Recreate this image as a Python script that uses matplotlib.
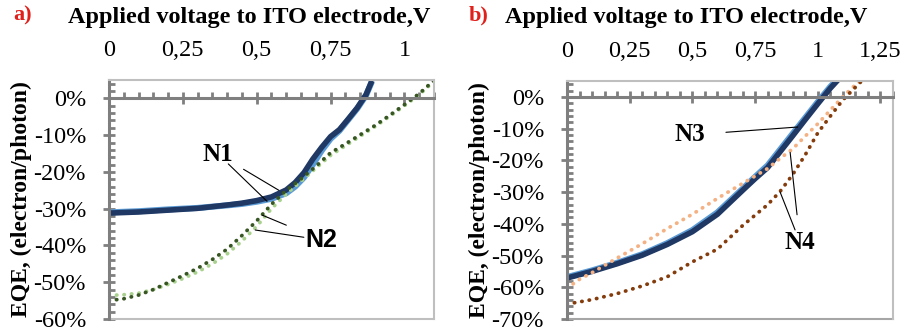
import numpy as np
import matplotlib
matplotlib.use('Agg')
import matplotlib.pyplot as plt
from matplotlib.ticker import MultipleLocator, FuncFormatter
from matplotlib.lines import Line2D

# ---- data ----
# panel a
v_n1 = [0, 0.1, 0.2, 0.3, 0.4, 0.45, 0.5, 0.55, 0.6, 0.63, 0.66, 0.69, 0.72, 0.75, 0.78, 0.81, 0.84, 0.87, 0.89]
n1_dark = [-31.2, -30.9, -30.4, -29.9, -29.0, -28.5, -27.8, -26.8, -24.9, -22.9, -20.2, -16.5, -13.3, -10.4, -8.5, -5.6, -2.6, 1.0, 4.8]
n1_light = [-31.0, -30.7, -30.2, -29.8, -29.1, -28.7, -28.1, -27.3, -25.8, -24.0, -21.5, -18.0, -14.2, -11.0, -8.8, -5.8, -2.8, 0.8, 4.6]

v_n2 = [0, 0.05, 0.1, 0.15, 0.2, 0.25, 0.3, 0.35, 0.4, 0.45, 0.5, 0.55, 0.6, 0.65, 0.7, 0.75, 0.8, 0.85, 0.9, 0.95, 1.0, 1.05, 1.1]
n2_dark = [-55.0, -54.5, -53.5, -52.0, -50.1, -48.2, -46.2, -43.8, -41.0, -37.3, -33.3, -28.8, -25.0, -21.9, -18.5, -14.8, -12.4, -9.9, -7.4, -4.6, -1.7, 1.3, 4.9]
n2_light = [-53.6, -53.4, -53.0, -52.0, -50.6, -49.0, -47.2, -45.0, -42.3, -38.8, -34.8, -30.0, -26.0, -22.5, -19.0, -15.5, -12.9, -10.3, -7.7, -4.9, -2.0, 1.0, 4.6]

# panel b
v_n3 = [0, 0.1, 0.2, 0.3, 0.4, 0.5, 0.6, 0.7, 0.75, 0.8, 0.85, 0.9, 0.95, 1.0, 1.05, 1.1]
n3_dark = [-57.1, -55.0, -52.6, -49.9, -46.5, -42.5, -37.0, -29.5, -25.8, -22.3, -17.3, -12.3, -7.2, -2.2, 2.7, 7.0]
n3_light = [-56.8, -54.7, -52.3, -49.6, -46.1, -42.0, -36.4, -29.0, -25.2, -21.6, -16.6, -11.6, -6.6, -1.6, 3.2, 7.4]

v_n4 = [0, 0.05, 0.1, 0.2, 0.3, 0.4, 0.5, 0.6, 0.7, 0.8, 0.85, 0.9, 0.95, 1.0, 1.05, 1.1, 1.15, 1.2]
n4_light = [-60.3, -57.5, -55.4, -50.8, -46.3, -41.5, -37.0, -32.0, -27.3, -22.6, -19.4, -16.4, -12.4, -8.5, -4.2, 0.0, 3.8, 7.0]
n4_dark = [-65.3, -64.6, -63.9, -62.0, -59.6, -56.7, -52.0, -48.0, -40.6, -34.0, -29.8, -24.5, -18.3, -11.4, -6.1, -1.0, 3.0, 7.0]

xticks_a = [0, 0.25, 0.5, 0.75, 1]
xticks_b = [0, 0.25, 0.5, 0.75, 1, 1.25]
xlabels_a = ['0', '0,25', '0,5', '0,75', '1']
xlabels_b = ['0', '0,25', '0,5', '0,75', '1', '1,25']

plt.rcParams['font.family'] = 'Liberation Serif'
AX_GRAY = '#7f7f7f'
FRAME = '#bfbfbf'
NAVY = '#1f3864'
LBLUE = '#5b9bd5'

fig = plt.figure(figsize=(9.06, 3.35), dpi=100)
ax_a = fig.add_axes([0.1203, 0.0478, 0.3587, 0.7134])
ax_b = fig.add_axes([0.6258, 0.0478, 0.3598, 0.7104])


def style(ax, xlim, ylim, xticks, xlabels, bottom_col):
    ax.set_xlim(*xlim)
    ax.set_ylim(*ylim)
    for s in ['top', 'right']:
        ax.spines[s].set_color(FRAME)
        ax.spines[s].set_linewidth(1.5)
    ax.spines['left'].set_color(AX_GRAY)
    ax.spines['left'].set_linewidth(2.2)
    ax.spines['bottom'].set_position(('data', 0))
    ax.spines['bottom'].set_color(AX_GRAY)
    ax.spines['bottom'].set_linewidth(2.2)
    ax.add_line(Line2D([0, 1], [0, 0], transform=ax.transAxes, color=bottom_col, lw=1.5, clip_on=False))
    ax.xaxis.set_major_locator(MultipleLocator(0.25))
    ax.xaxis.set_minor_locator(MultipleLocator(0.05))
    ax.yaxis.set_major_locator(MultipleLocator(10))
    ax.yaxis.set_minor_locator(MultipleLocator(2))
    ax.tick_params(axis='x', which='major', direction='inout', length=9, width=2, color=AX_GRAY, labelbottom=False)
    ax.tick_params(axis='x', which='minor', direction='in', length=4, width=2, color=AX_GRAY)
    ax.tick_params(axis='y', which='major', direction='inout', length=9, width=2, color=AX_GRAY, labelsize=17.5, pad=12)
    ax.tick_params(axis='y', which='minor', direction='in', length=4, width=2, color=AX_GRAY)
    ax.yaxis.set_major_formatter(FuncFormatter(lambda v, p: f'{v:.0f}%'))
    sec = ax.secondary_xaxis('top')
    sec.set_xticks(xticks, xlabels)
    sec.tick_params(length=0, pad=14, labelsize=17.5)
    sec.spines['top'].set_visible(False)
    ax.set_ylabel('EQE, (electron/photon)', fontsize=17, fontweight='bold', labelpad=1)


def dotted(ax, x, y, color):
    ax.plot(x, y, color=color, lw=2.7, linestyle=(0, (0.1, 1.9)), dash_capstyle='round')


# panel a
ax_a.plot(v_n1, n1_light, color=LBLUE, lw=4.4, solid_capstyle='butt')
ax_a.plot(v_n1, n1_dark, color=NAVY, lw=4.0, solid_capstyle='butt')
dotted(ax_a, v_n2, n2_light, '#a9d18e')
dotted(ax_a, v_n2, n2_dark, '#375623')
style(ax_a, (0, 1.1), (-60, 5), xticks_a, xlabels_a, FRAME)

ax_a.annotate('N1', xy=(0.575, -25.0), xytext=(0.37, -15.2), fontsize=18, fontweight='bold',
              ha='center', va='center', arrowprops=dict(arrowstyle='-', lw=0.8, color='black', shrinkA=6, shrinkB=0))
ax_a.annotate('', xy=(0.535, -28.0), xytext=(0.37, -15.2),
              arrowprops=dict(arrowstyle='-', lw=0.8, color='black', shrinkA=10, shrinkB=0))
ax_a.annotate('N2', xy=(0.52, -31.8), xytext=(0.72, -38.5), fontsize=18, fontweight='bold',
              family='Liberation Sans', ha='center', va='center',
              arrowprops=dict(arrowstyle='-', lw=0.8, color='black', shrinkA=13, shrinkB=0))
ax_a.annotate('', xy=(0.495, -35.8), xytext=(0.72, -38.5),
              arrowprops=dict(arrowstyle='-', lw=0.8, color='black', shrinkA=13, shrinkB=0))

# panel b
ax_b.plot(v_n3, n3_light, color=LBLUE, lw=4.4, solid_capstyle='butt')
ax_b.plot(v_n3, n3_dark, color=NAVY, lw=4.0, solid_capstyle='butt')
dotted(ax_b, v_n4, n4_light, '#f4b183')
dotted(ax_b, v_n4, n4_dark, '#843c0c')
style(ax_b, (0, 1.3), (-70, 5), xticks_b, xlabels_b, '#a6a6a6')

ax_b.annotate('N3', xy=(0.92, -9.5), xytext=(0.49, -12.0), fontsize=18, fontweight='bold',
              ha='center', va='center', arrowprops=dict(arrowstyle='-', lw=0.8, color='black', shrinkA=13, shrinkB=0))
ax_b.annotate('N4', xy=(0.89, -17.5), xytext=(0.93, -46.0), fontsize=18, fontweight='bold',
              ha='center', va='center', arrowprops=dict(arrowstyle='-', lw=0.8, color='black', shrinkA=10, shrinkB=0))
ax_b.annotate('', xy=(0.85, -30.0), xytext=(0.93, -46.0),
              arrowprops=dict(arrowstyle='-', lw=0.8, color='black', shrinkA=10, shrinkB=0))

# titles and panel letters
fig.text(0.275, 0.949, 'Applied voltage to ITO electrode,V', fontsize=17.5, fontweight='bold', ha='center', va='center')
fig.text(0.757, 0.949, 'Applied voltage to ITO electrode,V', fontsize=17.5, fontweight='bold', ha='center', va='center')
fig.text(0.025, 0.955, 'a)', fontsize=16, fontweight='bold', color='#e0201b', ha='center', va='center')
fig.text(0.528, 0.955, 'b)', fontsize=16, fontweight='bold', color='#e0201b', ha='center', va='center')

fig.savefig('out.png', dpi=100)
